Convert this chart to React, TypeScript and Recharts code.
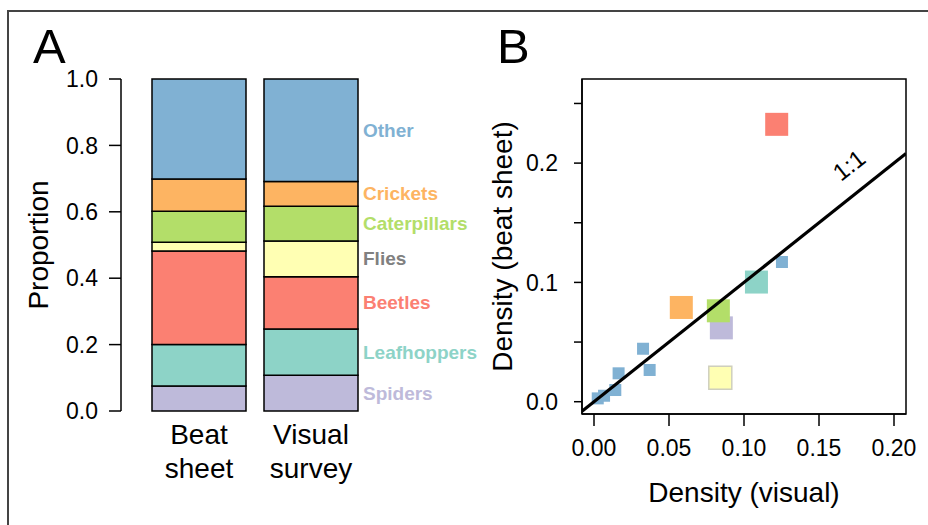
import React from "react";
import {
  Bar,
  BarChart,
  LabelList,
  ReferenceArea,
  Scatter,
  ScatterChart,
  XAxis,
  YAxis,
} from "recharts";

// arthropod groups, stacked from the bottom up
const groups = ["Spiders", "Leafhoppers", "Beetles", "Flies", "Caterpillars", "Crickets", "Other"];
const groupColors = ["#BEBADA", "#8DD3C7", "#FB8072", "#FFFFB3", "#B3DE69", "#FDB462", "#80B1D3"];
const groupLabelColors = ["#BEBADA", "#8DD3C7", "#FB8072", "#808080", "#B3DE69", "#FDB462", "#80B1D3"];

const methods = ["Beat sheet", "Visual survey"];
const beatSheetShare = [0.075, 0.125, 0.282, 0.026, 0.094, 0.097, 0.301];
const visualSurveyShare = [0.108, 0.139, 0.157, 0.108, 0.105, 0.074, 0.309];
const proportionTicks = [0, 0.2, 0.4, 0.6, 0.8, 1];

// panel B: densities of the named groups (same order as groups, without Other)
const groupVisualDensity = [0.0849, 0.1083, 0.1218, 0.0842, 0.0829, 0.0582];
const groupBeatDensity = [0.0619, 0.1003, 0.2325, 0.0201, 0.0762, 0.079];
// the "Other" taxa, drawn as small squares
const otherVisualDensity = [0.0025, 0.0067, 0.0142, 0.0164, 0.0327, 0.0371, 0.1253];
const otherBeatDensity = [0.0028, 0.005, 0.0098, 0.0238, 0.0444, 0.0266, 0.1171];

const densityXTicks = [0, 0.05, 0.1, 0.15, 0.2];
const densityYTicks = [0, 0.05, 0.1, 0.15, 0.2, 0.25];
const densityYLabels = ["0.0", "", "0.1", "", "0.2", ""];
const xDomain = [-0.008, 0.208];
const yDomain = [-0.0103, 0.2705];

const FONT = '"Liberation Sans", Arial, Helvetica, sans-serif';

const shareRows = methods.map((method, i) => {
  const shares = i === 0 ? beatSheetShare : visualSurveyShare;
  const row: Record<string, string | number> = { method };
  groups.forEach((g, j) => {
    row[g] = shares[j];
  });
  return row;
});

const groupPoints = groupVisualDensity.map((x, i) => ({ x, y: groupBeatDensity[i], name: groups[i] }));
const otherPoints = otherVisualDensity.map((x, i) => ({ x, y: otherBeatDensity[i] }));
// 1:1 line across the whole plotting region
const oneToOne = [
  { x: xDomain[0], y: xDomain[0] },
  { x: xDomain[1], y: xDomain[1] },
];

function MethodTick({ x, y, payload }: any) {
  const [first, second] = String(payload.value).split(" ");
  return (
    <g fontFamily={FONT} fontSize={28} fill="#000" textAnchor="middle">
      <text x={x} y={y + 33}>{first}</text>
      <text x={x} y={y + 67}>{second}</text>
    </g>
  );
}

function BigSquare({ cx, cy, payload }: any) {
  const s = 23;
  const i = groups.indexOf(payload.name);
  const flies = payload.name === "Flies";
  return (
    <rect
      x={cx - s / 2}
      y={cy - s / 2}
      width={s}
      height={s}
      fill={groupColors[i]}
      stroke={flies ? "#cfcfbd" : "none"}
      strokeWidth={flies ? 1.5 : 0}
    />
  );
}

function SmallSquare({ cx, cy }: any) {
  const s = 12;
  return <rect x={cx - s / 2} y={cy - s / 2} width={s} height={s} fill="#80B1D3" />;
}

function ProportionPanel() {
  return (
    <BarChart
      width={500}
      height={525}
      data={shareRows}
      margin={{ top: 79, right: 0, bottom: 14, left: 0 }}
    >
      <XAxis
        dataKey="method"
        type="category"
        padding={{ left: 22, right: 133 }}
        axisLine={false}
        tickLine={false}
        tickSize={0}
        tickMargin={0}
        height={100}
        tick={<MethodTick />}
        interval={0}
      />
      <YAxis
        type="number"
        domain={[0, 1]}
        ticks={proportionTicks}
        tickFormatter={(v: number) => v.toFixed(1)}
        width={121}
        tickSize={12}
        tickMargin={11}
        axisLine={{ stroke: "#000", strokeWidth: 1.5 }}
        tickLine={{ stroke: "#000", strokeWidth: 1.5 }}
        tick={{ fill: "#000", fontSize: 23, fontFamily: FONT }}
        label={(p: any) => {
          const vb = p.viewBox;
          const cy = vb.y + vb.height / 2;
          return (
            <text
              x={38}
              y={cy}
              transform={`rotate(-90 38 ${cy})`}
              textAnchor="middle"
              dominantBaseline="central"
              fontSize={28}
              fontFamily={FONT}
              fill="#000"
            >
              Proportion
            </text>
          );
        }}
      />
      {groups.map((g, j) => (
        <Bar
          key={g}
          dataKey={g}
          stackId="share"
          barSize={94}
          fill={groupColors[j]}
          stroke="#000"
          strokeWidth={1.5}
          isAnimationActive={false}
        >
          <LabelList
            dataKey={g}
            content={(p: any) =>
              p.index === 1 ? (
                <text
                  x={p.x + p.width + 5}
                  y={p.y + p.height / 2}
                  dominantBaseline="central"
                  fontSize={19}
                  fontWeight="bold"
                  fontFamily={FONT}
                  fill={groupLabelColors[j]}
                >
                  {g}
                </text>
              ) : null
            }
          />
        </Bar>
      ))}
    </BarChart>
  );
}

function DensityPanel() {
  return (
    <ScatterChart width={458} height={525} margin={{ top: 79, right: 22, bottom: 31, left: 0 }}>
      <XAxis
        type="number"
        dataKey="x"
        domain={xDomain}
        allowDataOverflow
        ticks={densityXTicks}
        tickFormatter={(v: number) => v.toFixed(2)}
        height={80}
        tickSize={12}
        tickMargin={14}
        axisLine={{ stroke: "#000", strokeWidth: 1.5 }}
        tickLine={{ stroke: "#000", strokeWidth: 1.5 }}
        tick={{ fill: "#000", fontSize: 23, fontFamily: FONT }}
        label={(p: any) => {
          const vb = p.viewBox;
          return (
            <text
              x={vb.x + vb.width / 2}
              y={492}
              textAnchor="middle"
              dominantBaseline="central"
              fontSize={28}
              fontFamily={FONT}
              fill="#000"
            >
              Density (visual)
            </text>
          );
        }}
      />
      <YAxis
        type="number"
        dataKey="y"
        domain={yDomain}
        allowDataOverflow
        ticks={densityYTicks}
        tickFormatter={(v: number) => densityYLabels[densityYTicks.indexOf(v)] ?? ""}
        width={112}
        tickSize={8}
        tickMargin={16}
        axisLine={{ stroke: "#000", strokeWidth: 1.5 }}
        tickLine={{ stroke: "#000", strokeWidth: 1.5 }}
        tick={{ fill: "#000", fontSize: 23, fontFamily: FONT }}
        label={(p: any) => {
          const vb = p.viewBox;
          const cy = vb.y + vb.height / 2;
          return (
            <text
              x={32}
              y={cy}
              transform={`rotate(-90 32 ${cy})`}
              textAnchor="middle"
              dominantBaseline="central"
              fontSize={28}
              fontFamily={FONT}
              fill="#000"
            >
              Density (beat sheet)
            </text>
          );
        }}
      />
      <ReferenceArea
        x1={xDomain[0]}
        x2={xDomain[1]}
        y1={yDomain[0]}
        y2={yDomain[1]}
        fill="none"
        fillOpacity={0}
        stroke="#000"
        strokeWidth={1.5}
        ifOverflow="visible"
      />
      <Scatter data={otherPoints} shape={<SmallSquare />} isAnimationActive={false} />
      <Scatter data={groupPoints} shape={<BigSquare />} isAnimationActive={false} />
      <Scatter
        data={oneToOne}
        line={{ stroke: "#000", strokeWidth: 3.2 }}
        shape={() => <g />}
        isAnimationActive={false}
      />
    </ScatterChart>
  );
}

export default function App() {
  return (
    <div
      style={{
        position: "absolute",
        left: 0,
        top: 0,
        width: 928,
        height: 525,
        overflow: "hidden",
        background: "#fff",
        fontFamily: FONT,
      }}
    >
      <div
        style={{
          position: "absolute",
          left: 7,
          top: 10,
          width: 960,
          height: 560,
          border: "2px solid #444",
        }}
      />
      <div style={{ position: "absolute", left: 0, top: 0 }}>
        <ProportionPanel />
      </div>
      <div style={{ position: "absolute", left: 470, top: 0 }}>
        <DensityPanel />
      </div>
      <svg
        width={928}
        height={525}
        style={{ position: "absolute", left: 0, top: 0, pointerEvents: "none" }}
        fontFamily={FONT}
      >
        <text x={33} y={63} fontSize={49} fill="#000">A</text>
        <text x={497} y={63} fontSize={49} fill="#000">B</text>
        <text
          x={849}
          y={165}
          fontSize={24}
          fill="#000"
          textAnchor="middle"
          dominantBaseline="central"
          transform="rotate(-38 849 165)"
        >
          1:1
        </text>
      </svg>
    </div>
  );
}
